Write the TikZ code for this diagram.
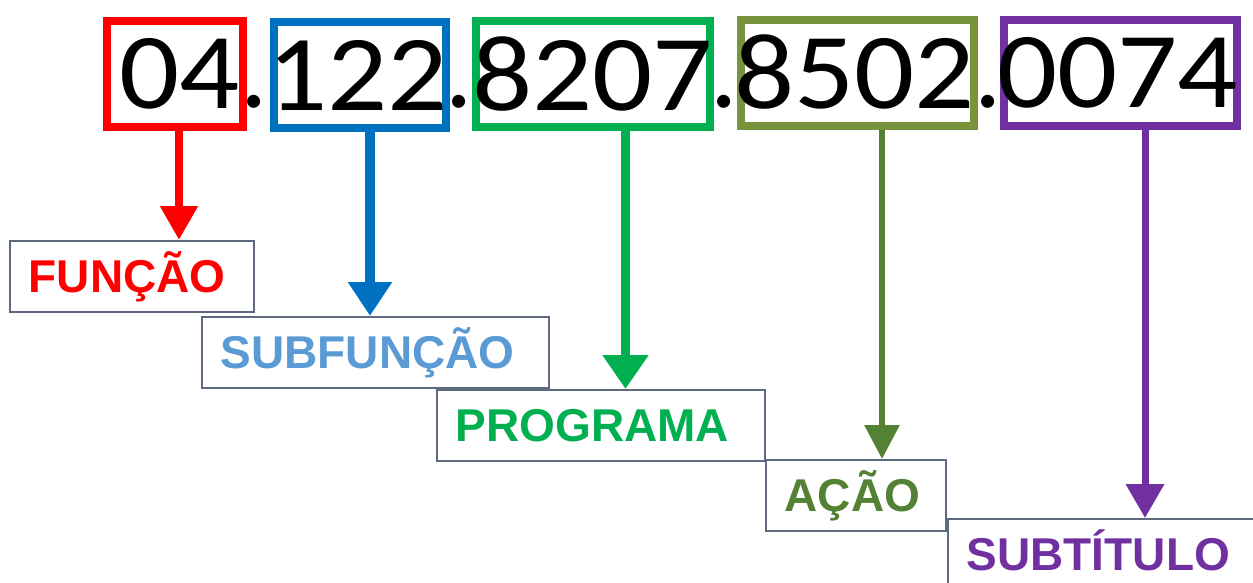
\documentclass[tikz,border=0pt]{standalone}
\usepackage{fontspec}
\setmainfont{Liberation Sans}
\newfontfamily\digitfont{Carlito}
\usetikzlibrary{arrows.meta}

\definecolor{fred}{HTML}{FF0000}
\definecolor{fblue}{HTML}{0070C0}
\definecolor{flightblue}{HTML}{5B9BD5}
\definecolor{fgreen}{HTML}{00B050}
\definecolor{folive}{HTML}{77933C}
\definecolor{fdarkolive}{HTML}{548235}
\definecolor{fpurple}{HTML}{7030A0}
\definecolor{lboxline}{HTML}{5E6A80}

\tikzset{
  codebox/.style={draw, line width=8, inner sep=0, minimum width=#1, minimum height=106},
  digits/.style={inner sep=0, xscale=1.1, font=\digitfont\fontsize{108}{108}\selectfont},
  dot/.style={inner sep=0, anchor=base, font=\digitfont\fontsize{108}{108}\selectfont},
  lbox/.style={draw=lboxline, line width=1.5, anchor=north west, inner xsep=19, inner ysep=0,
    text width=#1, align=left, minimum height=71, text height=33, text depth=0,
    font=\bfseries\fontsize{46}{46}\selectfont},
  arr/.style 2 args={line width=#1, -{Triangle[width=#2,length=34pt]}}
}

\begin{document}
\begin{tikzpicture}[x=1pt, y=-1pt]
  \useasboundingbox (0,0) rectangle (1253,582);
  \clip (0,0) rectangle (1253,582);

  \node[codebox=136, draw=fred]    (c1) at (174.5,73.5) {};
  \node[codebox=172, draw=fblue]   (c2) at (359.5,75) {};
  \node[codebox=234, draw=fgreen]  (c3) at (592.5,74) {};
  \node[codebox=233, draw=folive]  (c4) at (857,72.5) {};
  \node[codebox=233, draw=fpurple] (c5) at (1120,72.5) {};

  \node[digits] at ([xshift=5]c1.center) {04};
  \node[digits] at ([xshift=-2]c2.center) {122};
  \node[digits] at (c3.center) {8207};
  \node[digits] at ([xshift=-2.5]c4.center) {8502};
  \node[digits] at ([xshift=-2.5]c5.center) {0074};

  \node[dot] (d1) at (254,107) {\makebox[0pt]{.}};
  \node[dot] (d2) at (459,107) {\makebox[0pt]{.}};
  \node[dot] (d3) at (724,107) {\makebox[0pt]{.}};
  \node[dot] (d4) at (988,107) {\makebox[0pt]{.}};

  \node[lbox=206, text=fred]       (l1) at (9,240)   {FUNÇÃO};
  \node[lbox=309, text=flightblue] (l2) at (201,316) {SUBFUNÇÃO};
  \node[lbox=290, text=fgreen]     (l3) at (436,389) {PROGRAMA};
  \node[lbox=142, text=fdarkolive] (l4) at (765,459) {AÇÃO};
  \node[lbox=400, text=fpurple]    (l5) at (947,518) {SUBTÍTULO};

  \draw[arr={8}{36pt}, fred]       ([xshift=4.5]c1.south) -- ([xshift=4.5]c1.south |- l1.north);
  \draw[arr={10}{42pt}, fblue]     ([xshift=10.5]c2.south) -- ([xshift=10.5]c2.south |- l2.north);
  \draw[arr={9}{44pt}, fgreen]     ([xshift=33]c3.south) -- ([xshift=33]c3.south |- l3.north);
  \draw[arr={6}{34pt}, fdarkolive] ([xshift=25]c4.south) -- ([xshift=25]c4.south |- l4.north);
  \draw[arr={7}{37pt}, fpurple]    ([xshift=25]c5.south) -- ([xshift=25]c5.south |- l5.north);
\end{tikzpicture}
\end{document}
